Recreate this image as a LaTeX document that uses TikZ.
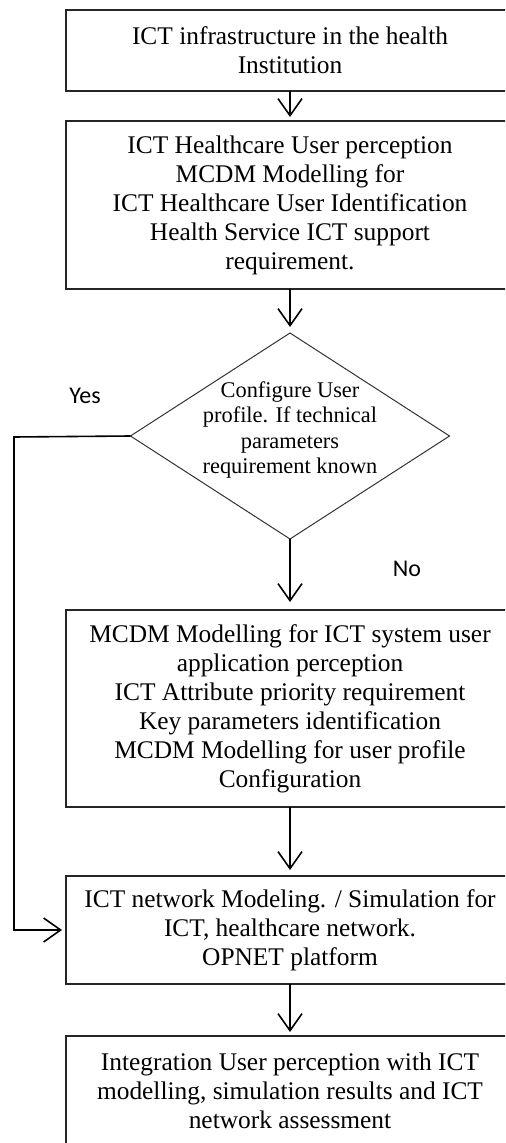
\documentclass[tikz,border=0pt]{standalone}
\usepackage{fontspec}
\setmainfont{Liberation Serif}
\newfontfamily\labelfont{Carlito}
\usetikzlibrary{shapes.geometric,arrows.meta}
\begin{document}
\begin{tikzpicture}[x=0.5pt,y=-0.5pt,
  stepbox/.style={draw=black!85, line width=0.9pt, rectangle, minimum width=224pt,
    inner sep=0pt, outer sep=0pt, align=center, font=\fontsize{12.7}{14.5}\selectfont},
  decision/.style={draw=black!80, line width=0.5pt, diamond, minimum width=159.5pt,
    minimum height=103pt, inner sep=0pt, outer sep=0pt},
  dtextstyle/.style={align=center, inner sep=0pt, font=\fontsize{11.2}{12.6}\selectfont},
  flow/.style={-{Straight Barb[length=8.5pt,width=12pt]}, line width=0.8pt, shorten >=2pt},
  branch/.style={font=\labelfont\fontsize{12}{13}\selectfont, inner sep=0pt}]
\clip (0,0) rectangle (505,1143);
\fill[white] (0,0) rectangle (505,1143);

\node[stepbox, minimum height=40.5pt] (b1) at (290,50.5)
  {ICT infrastructure in the health\\Institution};
\node[stepbox, minimum height=84pt] (b2) at (290,205)
  {ICT Healthcare User perception\\MCDM Modelling for\\ICT Healthcare User Identification\\Health Service ICT support\\requirement.};
\node[decision] (d) at (290,436) {};
\node[dtextstyle] (dt) at (290,430)
  {Configure User\\profile. If technical\\parameters\\requirement known};
\node[stepbox, minimum height=98.5pt] (b3) at (290,708.5)
  {MCDM Modelling for ICT system user\\application perception\\ICT Attribute priority requirement\\Key parameters identification\\MCDM Modelling for user profile\\Configuration};
\node[stepbox, minimum height=54pt] (b4) at (290,930)
  {ICT network Modeling. / Simulation for\\ICT, healthcare network.\\OPNET platform};
\node[stepbox, minimum height=55pt] (b5) at (290,1091)
  {Integration User perception with ICT\\modelling, simulation results and ICT\\network assessment};

\node[branch] (yes) at (85,396) {Yes};
\node[branch] (no) at (407,569) {No};
\coordinate (yc) at (14,437);

\draw[flow] (b1.south) -- (b2.north);
\draw[flow, shorten >=3pt] (b2.south) -- (d.north);
\draw[flow, shorten >=4pt] (d.south) -- (b3.north);
\draw[flow, shorten >=3pt] (b3.south) -- (b4.north);
\draw[flow] (b4.south) -- (b5.north);
\draw[flow] (d.west) -- (yc) |- (b4.west);
\end{tikzpicture}
\end{document}
